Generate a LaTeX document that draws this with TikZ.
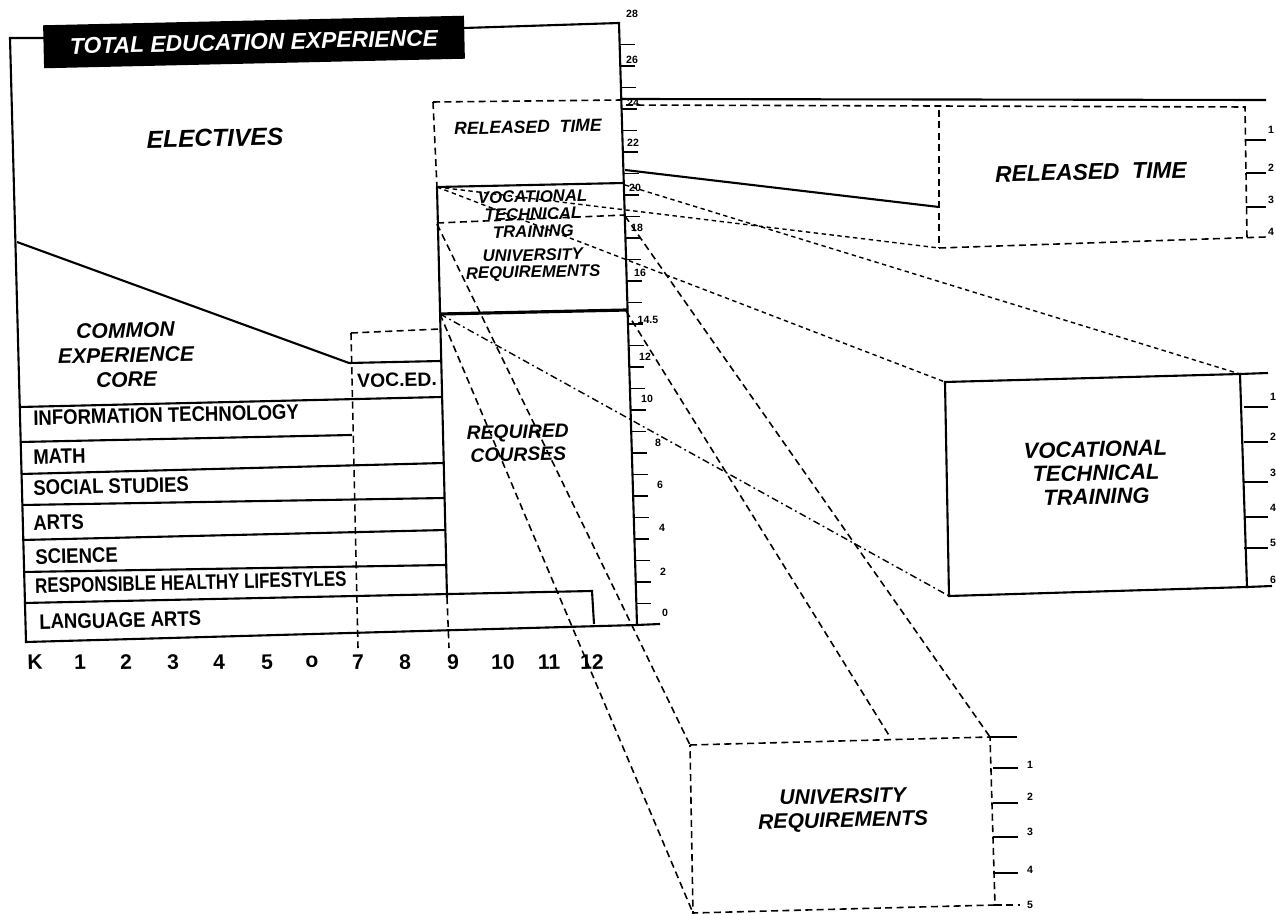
\documentclass[tikz,border=0pt]{standalone}
\usepackage{fontspec}
\setmainfont{Liberation Sans}
\newfontfamily\rowfont[FakeStretch=0.88]{Liberation Sans}
\usetikzlibrary{positioning, calc}

\begin{document}
\begin{tikzpicture}[x=0.02cm, y=-0.02cm,
        chartline/.style={line width=1.2pt},
        boldline/.style={line width=1.8pt},
        dashline/.style={line width=0.9pt, dash pattern=on 4pt off 2.5pt},
        fineline/.style={line width=0.8pt, dash pattern=on 2.5pt off 2pt},
        dotdash/.style={line width=0.8pt, dash pattern=on 4pt off 2pt on 1pt off 2pt},
        tickmark/.style={line width=0.9pt},
        itlbl/.style 2 args={font=\bfseries\itshape\fontsize{#1}{#2}\selectfont, align=center, inner sep=0pt, rotate=1.3},
        rowlbl/.style={font=\rowfont\bfseries\fontsize{12}{13}\selectfont, anchor=west, inner sep=0pt, rotate=1.3},
        grade/.style={font=\bfseries\fontsize{12}{13}\selectfont, inner sep=0pt, rotate=1.3},
        scalelbl/.style={font=\bfseries\fontsize{6}{7}\selectfont, inner sep=0pt}]

        \useasboundingbox (0,0) rectangle (1276,915);

        % Corners
        \coordinate (tl) at (10,38);
        \coordinate (bl) at (26,642);
        \coordinate (axTop) at (619,23);
        \coordinate (axBot) at (637,625);

        % Outline of the chart
        \draw[chartline] (44,38) -- (tl) -- (bl) -- (axBot) -- (660,624);
        \draw[chartline] (464,28) -- (axTop) -- (axBot);
        \node (title) [fill=black, text=white, minimum width=8.42cm, minimum height=0.86cm, inner sep=0pt, rotate=1.3, font=\bfseries\itshape\fontsize{13}{15}\selectfont] at (254,42) {TOTAL EDUCATION EXPERIENCE};

        % Scale on the right edge
        \foreach \k in {1,...,27}
            \draw[tickmark] ($(axBot)!{\k*21.5/602}!(axTop)$) -- ++(15,0);
        \foreach \v/\xx/\yy [count=\i] in {0/665/613, 2/663/572, 4/662/528, 6/660/485, 8/658/443, 10/647/399, 12/645/357, 14.5/648/320, 16/640/273, 18/637/228, 20/635/188, 22/633/143, 24/633/103, 26/632/60, 28/632/14}
            \node (sc\i) [scalelbl] at (\xx,\yy) {\v};

        % Electives and core
        \draw[chartline] (17,242) -- (349,363) -- (441,361);
        \node (electives) [itlbl={14}{16}] at (215,138) {ELECTIVES};
        \node (core) [itlbl={12}{14}] at (126,355) {COMMON\\EXPERIENCE\\CORE};

        % Voc. ed. and grades 9-12
        \draw[dashline] (351,333) -- (440,329);
        \draw[dashline] (351,333) -- (358,648);
        \draw[chartline] (437,187) -- (447,597);
        \draw[dashline] (447,597) -- (449,648);
        \node (voced) [grade, font=\bfseries\fontsize{11}{12}\selectfont] at (397,380) {VOC.ED.};
        \node (required) [itlbl={11}{13}] at (518,443) {REQUIRED\\COURSES};

        % Subject rows
        \draw[chartline] (20,407) -- (442,397);
        \draw[chartline] (20,442) -- (352,435);
        \draw[chartline] (21,474) -- (444,463);
        \draw[chartline] (22,505) -- (445,498);
        \draw[chartline] (22,540) -- (446,530);
        \draw[chartline] (23,572) -- (446,565);
        \draw[chartline] (24,603) -- (592,591) -- (594,624);

        \node (infotech) [rowlbl] at (33,418) {INFORMATION TECHNOLOGY};
        \node (math) [rowlbl] at (33,457) {MATH};
        \node (social) [rowlbl] at (33,488) {SOCIAL STUDIES};
        \node (arts) [rowlbl] at (33,523) {ARTS};
        \node (science) [rowlbl] at (35,557) {SCIENCE};
        \node (health) [rowlbl, xscale=0.91] at (35,586) {RESPONSIBLE HEALTHY LIFESTYLES};
        \node (language) [rowlbl] at (39,622) {LANGUAGE ARTS};

        % Grades
        \foreach \g/\xx [count=\i] in {K/35, 1/80, 2/126, 3/173, 4/219, 5/267, o/312, 7/358, 8/405, 9/453, 10/503, 11/549, 12/592}
            \node (gr\i) [grade] at (\xx,662) {\g};

        % Column of grades 9-12
        \draw[dashline] (433,102) -- (622,100);
        \draw[dashline] (433,102) -- (437,187);
        \draw[chartline] (437,187) -- (624,183);
        \draw[dashline] (437,223) -- (625,215);
        \draw[boldline] (440,314) -- (627,310);
        \node (relCol) [itlbl={10}{11}] at (528,127) {RELEASED\ \ TIME};
        \node (vttCol) [itlbl={9.5}{10}] at (533,214) {VOCATIONAL\\TECHNICAL\\TRAINING};
        \node (uniCol) [itlbl={9.5}{9.5}] at (533,265) {UNIVERSITY\\REQUIREMENTS};

        % Released time box
        \coordinate (rA) at (939,110);
        \coordinate (rB) at (1245,107);
        \coordinate (rC) at (1247,238);
        \coordinate (rD) at (939,248);
        \draw[chartline] (622,99) -- (1266,100);
        \draw[chartline] (625,170) -- (939,207);
        \draw[dashline] (626,105) -- (rB) -- (rC);
        \draw[dashline] (rA) -- (rD);
        \draw[fineline] (437,187) -- (rD);
        \draw[dashline] (rD) -- (1266,237);
        \foreach \yy in {140,173,207}
            \draw[tickmark] (1246,\yy) -- (1266,\yy);
        \foreach \yy [count=\i] in {130,168,200,232}
            \node (rt\i) [scalelbl] at (1271,\yy) {\i};
        \node (relBox) [itlbl={13}{15}] at (1091,172) {RELEASED\ \ TIME};

        % Vocational technical training box
        \coordinate (vA) at (945,382);
        \coordinate (vB) at (1240,374);
        \coordinate (vC) at (1247,587);
        \coordinate (vD) at (949,596);
        \draw[fineline] (625,185) -- (vB);
        \draw[fineline] (437,187) -- (vA);
        \draw[dotdash] (440,314) -- (vD);
        \draw[chartline] (vA) -- (vB) -- (vC) -- (vD) -- cycle;
        \draw[chartline] (vB) -- (1268,373);
        \draw[chartline] (vC) -- (1272,586);
        \foreach \yy in {407,442,482,517,548}
            \draw[tickmark] (1244,\yy) -- (1268,\yy);
        \foreach \yy [count=\i] in {397,437,473,508,543,580}
            \node (vt\i) [scalelbl] at (1273,\yy) {\i};
        \node (vttBox) [itlbl={12.5}{13.5}] at (1096,473) {VOCATIONAL\\TECHNICAL\\TRAINING};

        % University requirements box
        \coordinate (uA) at (690,745);
        \coordinate (uB) at (990,737);
        \coordinate (uC) at (995,905);
        \coordinate (uD) at (693,913);
        \draw[dashline] (437,224) -- (uA);
        \draw[dashline] (440,314) -- (uD);
        \draw[dashline] (625,216) -- (uB);
        \draw[dashline] (626,311) -- (890,737);
        \draw[dashline] (uA) -- (uB) -- (uC) -- (uD) -- cycle;
        \draw[chartline] (uB) -- (1017,737);
        \draw[dashline] (uC) -- (1020,905);
        \foreach \yy in {768,803,837,873}
            \draw[tickmark] (993,\yy) -- (1018,\yy);
        \foreach \yy [count=\i] in {765,797,832,870,905}
            \node (ut\i) [scalelbl] at (1030,\yy) {\i};
        \node (uniBox) [itlbl={12}{13.5}] at (843,810) {UNIVERSITY\\REQUIREMENTS};

    \end{tikzpicture}
\end{document}
